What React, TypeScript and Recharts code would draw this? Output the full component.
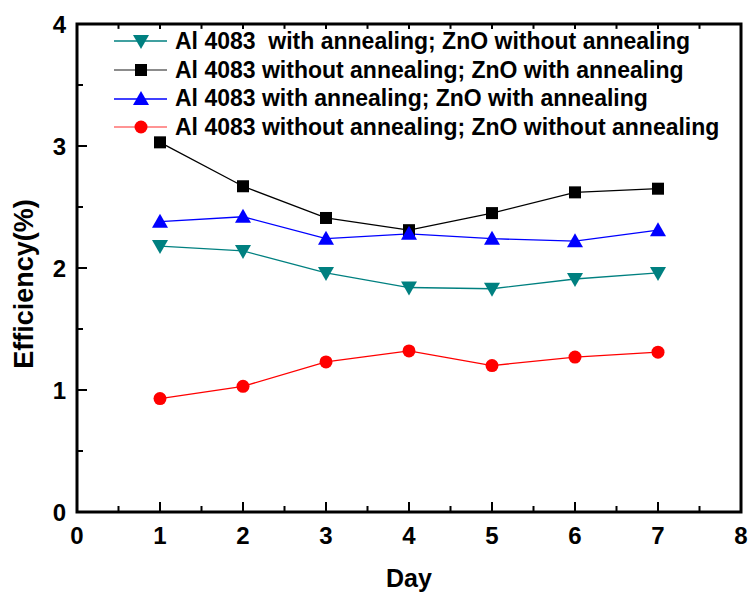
import React from 'react';
import { LineChart, Line, XAxis, YAxis, ReferenceLine, ReferenceArea } from 'recharts';

const days = [1, 2, 3, 4, 5, 6, 7];
const tealValues = [2.18, 2.14, 1.96, 1.84, 1.83, 1.91, 1.96];
const blackValues = [3.03, 2.67, 2.41, 2.31, 2.45, 2.62, 2.65];
const blueValues = [2.38, 2.42, 2.24, 2.28, 2.24, 2.22, 2.31];
const redValues = [0.93, 1.03, 1.23, 1.32, 1.2, 1.27, 1.31];

const xTicks = [0, 0.5, 1, 1.5, 2, 2.5, 3, 3.5, 4, 4.5, 5, 5.5, 6, 6.5, 7, 7.5, 8];
const yTicks = [0, 0.5, 1, 1.5, 2, 2.5, 3, 3.5, 4];

const seriesNames = [
  'Al 4083  with annealing; ZnO without annealing',
  'Al 4083 without annealing; ZnO with annealing',
  'Al 4083 with annealing; ZnO with annealing',
  'Al 4083 without annealing; ZnO without annealing',
];

const data = days.map((day, i) => ({
  day,
  teal: tealValues[i],
  black: blackValues[i],
  blue: blueValues[i],
  red: redValues[i],
}));

const FONT = '"Liberation Sans", Arial, sans-serif';
const INK = '#000000';

const Marker = ({ shape, color, cx, cy }: any) => {
  if (shape === 'square') {
    return <rect x={cx - 6} y={cy - 6} width={12} height={12} fill={color} />;
  }
  if (shape === 'up') {
    return <polygon points={`${cx},${cy - 8} ${cx - 8},${cy + 6} ${cx + 8},${cy + 6}`} fill={color} />;
  }
  if (shape === 'down') {
    return <polygon points={`${cx},${cy + 8} ${cx - 8},${cy - 6} ${cx + 8},${cy - 6}`} fill={color} />;
  }
  return <circle cx={cx} cy={cy} r={6.5} fill={color} />;
};

const dotFor = (shape: string, color: string) => (props: any) => (
  <Marker key={`${shape}-${props.index}`} shape={shape} color={color} cx={props.cx} cy={props.cy} />
);

// ticks point inward; half-step ticks are shorter and carry no label
const BottomTick = (props: any) => {
  const { x, y, payload } = props;
  const major = Number.isInteger(payload.value);
  return (
    <g>
      <rect x={x - 1} y={y - (major ? 10 : 6)} width={2} height={major ? 10 : 6} fill={INK} />
      {major && (
        <text x={x} y={y + 32} textAnchor="middle" fontFamily={FONT} fontWeight="bold" fontSize={24} fill={INK}>
          {payload.value}
        </text>
      )}
    </g>
  );
};

const LeftTick = (props: any) => {
  const { x, y, payload } = props;
  const major = Number.isInteger(payload.value);
  return (
    <g>
      <rect x={x} y={y - 1} width={major ? 10 : 6} height={2} fill={INK} />
      {major && (
        <text x={x - 11} y={y + 9} textAnchor="end" fontFamily={FONT} fontWeight="bold" fontSize={24} fill={INK}>
          {payload.value}
        </text>
      )}
    </g>
  );
};

const YTitle = () => (
  <text
    x={0}
    y={0}
    transform="translate(33, 284) rotate(-90)"
    textAnchor="middle"
    fontFamily={FONT}
    fontWeight="bold"
    fontSize={27}
    fill={INK}
  >
    Efficiency(%)
  </text>
);

const legendItems = [
  { name: seriesNames[0], color: '#008080', line: '#008080', shape: 'down' },
  { name: seriesNames[1], color: '#000000', line: '#666666', shape: 'square' },
  { name: seriesNames[2], color: '#0000ff', line: '#0000ff', shape: 'up' },
  { name: seriesNames[3], color: '#ff0000', line: '#ff7070', shape: 'circle' },
];

const LegendBox = () => (
  <div style={{ position: 'absolute', top: 27, left: 114 }}>
    {legendItems.map((item) => (
      <div key={item.name} style={{ display: 'flex', alignItems: 'center', height: 28.7 }}>
        <svg width={56} height={20}>
          <line x1={0} y1={10} x2={53} y2={10} stroke={item.line} strokeWidth={1.5} />
          <Marker shape={item.shape} color={item.color} cx={27} cy={10} />
        </svg>
        <span style={{ fontFamily: FONT, fontWeight: 'bold', fontSize: 23, color: INK, whiteSpace: 'pre', marginLeft: 5 }}>
          {item.name}
        </span>
      </div>
    ))}
  </div>
);

export default function App() {
  return (
    <div style={{ position: 'absolute', left: 0, top: 0, width: 750, height: 596 }}>
      <LineChart width={750} height={596} data={data} margin={{ top: 24, right: 9, bottom: 0, left: 0 }}>
        <XAxis
          dataKey="day"
          type="number"
          domain={[0, 8]}
          ticks={xTicks}
          interval={0}
          height={84}
          tickSize={0}
          tickMargin={0}
          tickLine={false}
          tick={<BottomTick />}
          axisLine={false}
          label={{ value: 'Day', position: 'insideBottom', offset: 9, fill: INK, fontSize: 25, fontWeight: 'bold', fontFamily: FONT }}
        />
        <YAxis
          type="number"
          domain={[0, 4]}
          ticks={yTicks}
          interval={0}
          width={77}
          tickSize={0}
          tickMargin={0}
          tickLine={false}
          tick={<LeftTick />}
          axisLine={false}
          label={<YTitle />}
        />
        <ReferenceArea x1={0} x2={8} y1={0} y2={4} fill="none" fillOpacity={0} stroke={INK} strokeWidth={3} strokeOpacity={1} />
        {xTicks.map((t) => (
          <ReferenceLine
            key={`top-${t}`}
            segment={[{ x: t, y: 4 }, { x: t, y: 3.96 }]}
            stroke={INK}
            strokeWidth={2}
          />
        ))}
        <Line dataKey="teal" name={seriesNames[0]} stroke="#008080" strokeWidth={1.3} dot={dotFor('down', '#008080')} isAnimationActive={false} />
        <Line dataKey="black" name={seriesNames[1]} stroke="#000000" strokeWidth={1.3} dot={dotFor('square', '#000000')} isAnimationActive={false} />
        <Line dataKey="blue" name={seriesNames[2]} stroke="#0000ff" strokeWidth={1.3} dot={dotFor('up', '#0000ff')} isAnimationActive={false} />
        <Line dataKey="red" name={seriesNames[3]} stroke="#ff0000" strokeWidth={1.3} dot={dotFor('circle', '#ff0000')} isAnimationActive={false} />
      </LineChart>
      <LegendBox />
    </div>
  );
}
